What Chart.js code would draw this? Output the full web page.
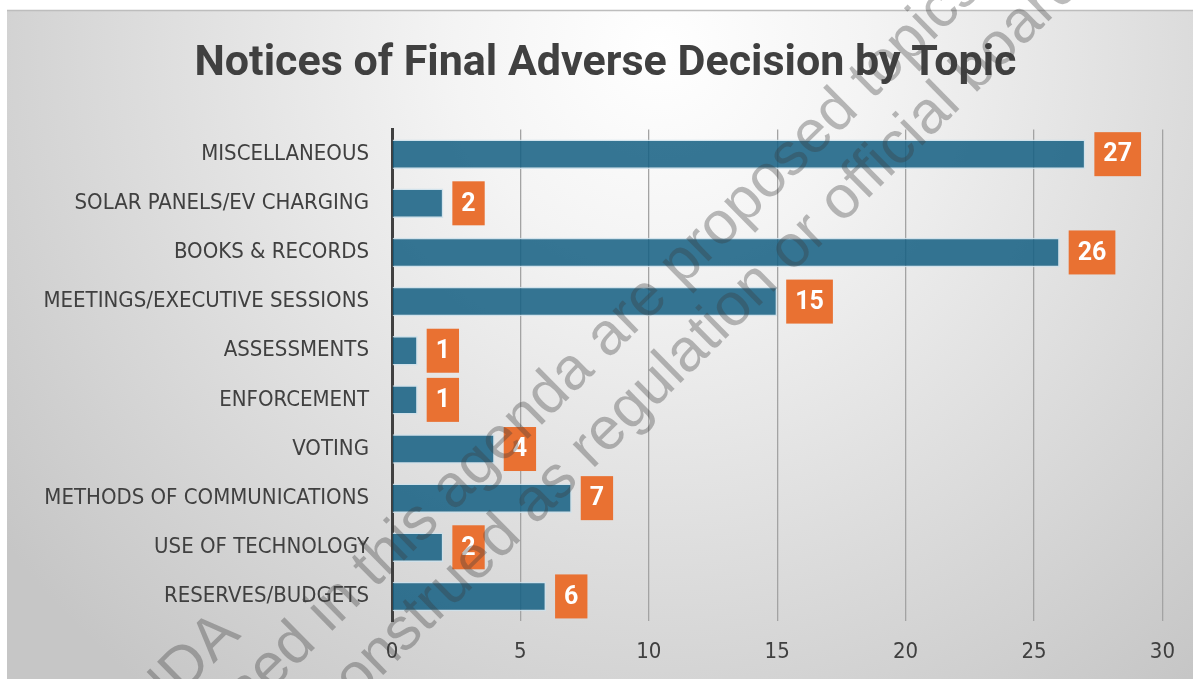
<!DOCTYPE html>
<html>
<head>
<meta charset="utf-8">
<script src="https://cdn.jsdelivr.net/npm/chart.js@4.4.1/dist/chart.umd.min.js"></script>
<style>
html,body{margin:0;padding:0;background:#fff;}
#wrap{width:1193px;height:679px;position:relative;}
</style>
</head>
<body>
<div id="wrap"><canvas id="c" width="1193" height="679"></canvas></div>
<script>
const categories = [
  'MISCELLANEOUS',
  'SOLAR PANELS/EV CHARGING',
  'BOOKS & RECORDS',
  'MEETINGS/EXECUTIVE SESSIONS',
  'ASSESSMENTS',
  'ENFORCEMENT',
  'VOTING',
  'METHODS OF COMMUNICATIONS',
  'USE OF TECHNOLOGY',
  'RESERVES/BUDGETS'
];
const counts = [27, 2, 26, 15, 1, 1, 4, 7, 2, 6];
const xTicks = [0, 5, 10, 15, 20, 25, 30];
const chartTitle = 'Notices of Final Adverse Decision by Topic';
const watermarkLines = [
  'DRAFT AGENDA',
  'Items contained in this agenda are proposed topics for discussion only',
  'and should not be construed as regulation or official board policy'
];

const bgPlugin = {
  id: 'bg',
  beforeDraw(chart) {
    const ctx = chart.ctx;
    // let the long category labels extend past the left of the y scale box
    if (chart.scales.y) chart.scales.y._computeLabelArea = () => undefined;
    ctx.save();
    ctx.fillStyle = '#ffffff';
    ctx.fillRect(0, 0, chart.width, chart.height);
    const g = ctx.createRadialGradient(660, 50, 0, 660, 50, 820);
    g.addColorStop(0, '#ffffff');
    g.addColorStop(0.25, '#f4f4f4');
    g.addColorStop(1, '#c6c6c6');
    ctx.fillStyle = g;
    ctx.fillRect(7, 10, chart.width - 7, chart.height - 10);
    ctx.strokeStyle = '#bdbdbd';
    ctx.lineWidth = 1.5;
    ctx.beginPath();
    ctx.moveTo(7, 10.5);
    ctx.lineTo(chart.width, 10.5);
    ctx.stroke();
    ctx.restore();
  }
};

const labelPlugin = {
  id: 'barLabels',
  afterDatasetsDraw(chart) {
    const ctx = chart.ctx;
    const meta = chart.getDatasetMeta(0);
    const data = chart.data.datasets[0].data;
    ctx.save();
    ctx.font = 'bold 25px Roboto';
    ctx.textAlign = 'center';
    ctx.textBaseline = 'middle';
    meta.data.forEach((bar, i) => {
      const t = String(data[i]);
      const w = ctx.measureText(t).width + 18;
      const h = 44;
      const x0 = bar.x + 9;
      const y0 = bar.y - h / 2;
      ctx.fillStyle = '#E97132';
      ctx.fillRect(x0, y0, w, h);
      ctx.fillStyle = '#ffffff';
      ctx.fillText(t, x0 + w / 2, bar.y + 1);
    });
    ctx.restore();
  }
};

const watermarkPlugin = {
  id: 'watermark',
  afterDraw(chart) {
    const ctx = chart.ctx;
    const ang = 44.5 * Math.PI / 180;
    const specs = [
      {text: watermarkLines[0], before: watermarkLines[0], x: 242, y: 636},
      {text: watermarkLines[1], before: 'Items contained in this agenda ', x: 608, y: 360},
      {text: watermarkLines[2], before: 'and should not be construed as ', x: 592, y: 470}
    ];
    ctx.save();
    ctx.font = '60px "Liberation Sans", Arial, sans-serif';
    ctx.fillStyle = 'rgba(60,60,60,0.34)';
    ctx.textBaseline = 'alphabetic';
    ctx.textAlign = 'left';
    specs.forEach(s => {
      const off = ctx.measureText(s.before).width;
      ctx.save();
      ctx.translate(s.x, s.y);
      ctx.rotate(-ang);
      ctx.fillText(s.text, -off, 0);
      ctx.restore();
    });
    ctx.restore();
  }
};

new Chart(document.getElementById('c'), {
  type: 'bar',
  data: {
    labels: categories,
    datasets: [{
      data: counts,
      backgroundColor: 'rgba(21,96,130,0.86)',
      borderColor: 'rgba(205,225,235,0.85)',
      borderWidth: 1.5,
      barPercentage: 0.6,
      categoryPercentage: 1
    }]
  },
  options: {
    indexAxis: 'y',
    responsive: false,
    animation: false,
    devicePixelRatio: 1,
    layout: {padding: {left: 47, right: 29, top: 10, bottom: 15}},
    plugins: {
      legend: {display: false},
      tooltip: {enabled: false},
      title: {
        display: true,
        text: chartTitle,
        color: '#404040',
        font: {family: 'Roboto', weight: 'bold', size: 43},
        padding: {top: 28, bottom: 40}
      }
    },
    scales: {
      x: {
        min: xTicks[0],
        max: xTicks[xTicks.length - 1],
        afterBuildTicks(scale) { scale.ticks = xTicks.map(v => ({value: v})); },
        afterFit(scale) { scale.height = 43; },
        ticks: {
          color: '#404040',
          padding: 18,
          maxRotation: 0,
          font: {family: "'DejaVu Sans Condensed', 'DejaVu Sans', sans-serif", size: 22}
        },
        grid: {
          color: (c) => (c.tick && c.tick.value === 0) ? 'rgba(0,0,0,0)' : '#a3a3a3',
          lineWidth: 1.3,
          drawTicks: false
        },
        border: {display: false}
      },
      y: {
        afterFit(scale) { scale.width = 345; },
        ticks: {
          color: '#404040',
          padding: 23,
          font: {family: "'DejaVu Sans Condensed', 'DejaVu Sans', sans-serif", size: 22}
        },
        grid: {display: false, drawTicks: false},
        border: {display: true, color: '#404040', width: 3}
      }
    }
  },
  plugins: [bgPlugin, labelPlugin, watermarkPlugin]
});
</script>
</body>
</html>
